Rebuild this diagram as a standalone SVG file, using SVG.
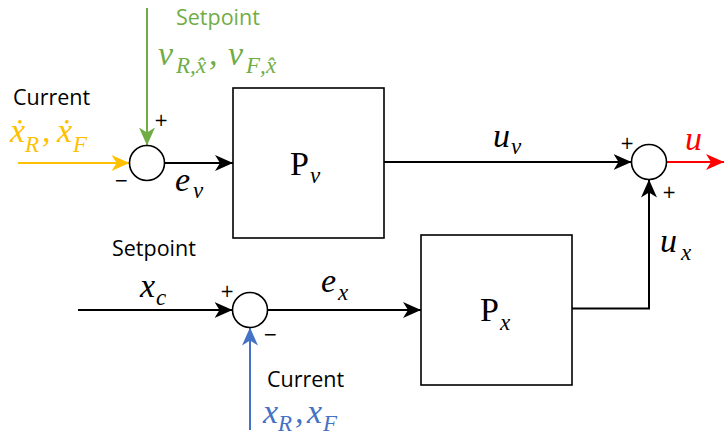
<svg xmlns="http://www.w3.org/2000/svg" width="724" height="435" viewBox="0 0 724 435">
<style>
.ln{fill:none;stroke-width:2}
.blk{fill:#fff;stroke:#000;stroke-width:1.6}
.sum{fill:#fff;stroke:#000;stroke-width:1.6}
.lbl{font-family:"Open Sans","Noto Sans",sans-serif;font-size:21.5px}
.m{font-family:"Liberation Serif","DejaVu Serif",serif;font-style:italic;font-size:34px}
.s{font-size:23px}
.P{font-family:"Liberation Serif","DejaVu Serif",serif;font-size:34px}
.sg{font-family:"DejaVu Sans",sans-serif;font-size:17px;text-anchor:middle}
</style>
<defs>
<marker id="aK" markerUnits="userSpaceOnUse" markerWidth="20" markerHeight="18" viewBox="0 -9 20 18" refX="18" refY="0" orient="auto"><path d="M0,-8 L18,0 L0,8 L5,0 Z" fill="#000"/></marker>
<marker id="aG" markerUnits="userSpaceOnUse" markerWidth="20" markerHeight="18" viewBox="0 -9 20 18" refX="18" refY="0" orient="auto"><path d="M0,-8 L18,0 L0,8 L5,0 Z" fill="#70AD47"/></marker>
<marker id="aY" markerUnits="userSpaceOnUse" markerWidth="20" markerHeight="18" viewBox="0 -9 20 18" refX="18" refY="0" orient="auto"><path d="M0,-8 L18,0 L0,8 L5,0 Z" fill="#FFC000"/></marker>
<marker id="aB" markerUnits="userSpaceOnUse" markerWidth="20" markerHeight="18" viewBox="0 -9 20 18" refX="18" refY="0" orient="auto"><path d="M0,-8 L18,0 L0,8 L5,0 Z" fill="#4472C4"/></marker>
<marker id="aR" markerUnits="userSpaceOnUse" markerWidth="20" markerHeight="18" viewBox="0 -9 20 18" refX="18" refY="0" orient="auto"><path d="M0,-8 L18,0 L0,8 L5,0 Z" fill="#FF0000"/></marker>
</defs>
<g id="connectors">
<path class="ln" stroke="#70AD47" d="M147,8 V145.5" marker-end="url(#aG)"/>
<path class="ln" stroke="#FFC000" d="M18,163 H129.5" marker-end="url(#aY)"/>
<path class="ln" stroke="#000" d="M164.5,163 H233" marker-end="url(#aK)"/>
<path class="ln" stroke="#000" d="M384,162 H631.5" marker-end="url(#aK)"/>
<path class="ln" stroke="#FF0000" d="M666.5,162 H724" marker-end="url(#aR)"/>
<path class="ln" stroke="#000" d="M572,308.5 H649 V179.5" marker-end="url(#aK)"/>
<path class="ln" stroke="#000" d="M78,310 H232.5" marker-end="url(#aK)"/>
<path class="ln" stroke="#000" d="M267.5,310 H421" marker-end="url(#aK)"/>
<path class="ln" stroke="#4472C4" d="M250,430 V327.5" marker-end="url(#aB)"/>
</g>
<g id="sum1"><circle class="sum" cx="147" cy="163" r="17.5"/>
<text class="sg" x="161" y="126">+</text><text class="sg" x="121" y="186">−</text></g>
<g id="Pv"><rect class="blk" x="233" y="88" width="151" height="150"/>
<text class="P" x="290" y="175">P<tspan class="m s" x="310" y="183">v</tspan></text></g>
<g id="sum2"><circle class="sum" cx="649" cy="162" r="17.5"/>
<text class="sg" x="627" y="149">+</text><text class="sg" x="669" y="197.5">+</text></g>
<g id="Px"><rect class="blk" x="421" y="235" width="151" height="150"/>
<text class="P" x="480" y="321">P<tspan class="m s" x="500" y="330">x</tspan></text></g>
<g id="sum3"><circle class="sum" cx="250" cy="310" r="17.5"/>
<text class="sg" x="227" y="297">+</text><text class="sg" x="270" y="340">−</text></g>
<g id="labels">
<text class="lbl" x="176" y="25" fill="#70AD47">Setpoint</text>
<text class="m" fill="#70AD47" y="65"><tspan x="158">v</tspan><tspan class="s" x="176" y="73">R</tspan><tspan class="s" x="190" y="73">,</tspan><tspan class="s" x="196" y="73">x̂</tspan><tspan x="209" y="65">,</tspan><tspan x="228">v</tspan><tspan class="s" x="246" y="73">F</tspan><tspan class="s" x="260" y="73">,</tspan><tspan class="s" x="266" y="73">x̂</tspan></text>
<text class="lbl" x="13" y="105">Current</text>
<text class="m" fill="#FFC000" y="142"><tspan x="10">ẋ</tspan><tspan class="s" x="25" y="152">R</tspan><tspan x="42" y="142">,</tspan><tspan x="57">ẋ</tspan><tspan class="s" x="73" y="152">F</tspan></text>
<text class="m" x="175" y="191">e<tspan class="s" x="193" y="198">v</tspan></text>
<text class="m" x="493" y="147">u<tspan class="s" x="511" y="154">v</tspan></text>
<text class="m" x="685" y="150" fill="#FF0000">u</text>
<text class="m" x="660" y="252">u<tspan class="s" x="681" y="260">x</tspan></text>
<text class="lbl" x="112" y="256">Setpoint</text>
<text class="m" x="140" y="297">x<tspan class="s" x="156" y="305">c</tspan></text>
<text class="m" x="321" y="292">e<tspan class="s" x="338" y="300">x</tspan></text>
<text class="lbl" x="267" y="387">Current</text>
<text class="m" fill="#4472C4" y="423"><tspan x="263">x</tspan><tspan class="s" x="278" y="431">R</tspan><tspan x="295" y="423">,</tspan><tspan x="307">x</tspan><tspan class="s" x="323" y="431">F</tspan></text>
</g>
</svg>
